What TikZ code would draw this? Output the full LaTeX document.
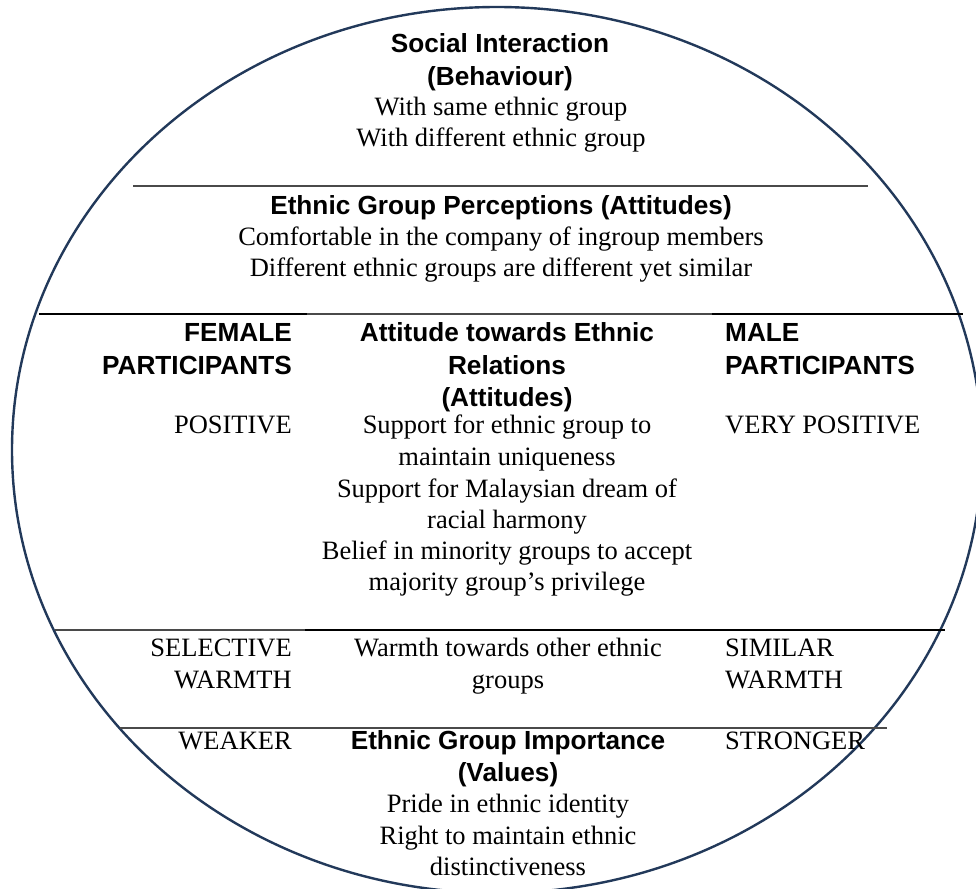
\documentclass[tikz,border=0pt]{standalone}
\usepackage{fontspec}
\setmainfont{Liberation Serif}
\newfontfamily\headfont{Liberation Sans}
\definecolor{rim}{HTML}{22395A}
\definecolor{rule}{HTML}{4A4A4A}
\begin{document}
\begin{tikzpicture}[x=1pt,y=-1pt,
  body/.style={font=\fontsize{26.5}{31}\selectfont, inner sep=0pt, anchor=base},
  head/.style={font=\headfont\bfseries\fontsize{26.2}{33}\selectfont, inner sep=0pt, anchor=base},
  lcol/.style={anchor=base east},
  rcol/.style={anchor=base west},
  thick rule/.style={black, line width=2pt},
  thin rule/.style={rule, line width=1.3pt},
  rimline/.style={rim, line width=2.4pt}]
\useasboundingbox (0,0) rectangle (976,888);

% outer ellipse, cut off by the page edges
\begin{scope}
  \clip (0,0) rectangle (976,888);
  \draw[rimline] (497,450) ellipse [x radius=485, y radius=443];
\end{scope}

% separating rules
\draw[thin rule] (133,186) -- (868,186);
\draw[thick rule] (39,314) -- (307,314);
\draw[thin rule] (307,314) -- (712,314);
\draw[thick rule] (712,314) -- (963,314);
\draw[thin rule] (55,630) -- (305,630);
\draw[thick rule] (305,630) -- (945,630);
\draw[thin rule] (120,728) -- (887,728);

% behaviour
\node[head] (si1) at (500,53) {Social Interaction};
\node[head] (si2) at (500,86) {(Behaviour)};
\node[body] (si3) at (501,115) {With same ethnic group};
\node[body] (si4) at (501,146) {With different ethnic group};

% perceptions
\node[head] (pe1) at (501,214) {Ethnic Group Perceptions (Attitudes)};
\node[body] (pe2) at (501,245) {Comfortable in the company of ingroup members};
\node[body] (pe3) at (501,276) {Different ethnic groups are different yet similar};

% column headings
\node[head,lcol] (fh1) at (292,341) {FEMALE};
\node[head,lcol] (fh2) at (292,374) {PARTICIPANTS};
\node[head,rcol] (mh1) at (725,341) {MALE};
\node[head,rcol] (mh2) at (725,374) {PARTICIPANTS};
\node[head] (at1) at (507,341) {Attitude towards Ethnic};
\node[head] (at2) at (507,374) {Relations};
\node[head] (at3) at (507,406) {(Attitudes)};

% attitudes towards ethnic relations
\node[body,lcol] (fpos) at (292,433) {POSITIVE};
\node[body,rcol] (mpos) at (725,433) {VERY POSITIVE};
\node[body] (at4) at (507,433) {Support for ethnic group to};
\node[body] (at5) at (507,465) {maintain uniqueness};
\node[body] (at6) at (507,497) {Support for Malaysian dream of};
\node[body] (at7) at (507,528) {racial harmony};
\node[body] (at8) at (507,559) {Belief in minority groups to accept};
\node[body] (at9) at (507,590) {majority group’s privilege};

% warmth
\node[body,lcol] (fw1) at (292,656) {SELECTIVE};
\node[body,lcol] (fw2) at (292,688) {WARMTH};
\node[body,rcol] (mw1) at (725,656) {SIMILAR};
\node[body,rcol] (mw2) at (725,688) {WARMTH};
\node[body] (wa1) at (508,656) {Warmth towards other ethnic};
\node[body] (wa2) at (508,688) {groups};

% importance
\node[body,lcol] (fi) at (292,749) {WEAKER};
\node[body,rcol] (mi) at (725,749) {STRONGER};
\node[head] (im1) at (508,749) {Ethnic Group Importance};
\node[head] (im2) at (508,781) {(Values)};
\node[body] (im3) at (508,812) {Pride in ethnic identity};
\node[body] (im4) at (508,844) {Right to maintain ethnic};
\node[body] (im5) at (508,875) {distinctiveness};
\end{tikzpicture}
\end{document}
